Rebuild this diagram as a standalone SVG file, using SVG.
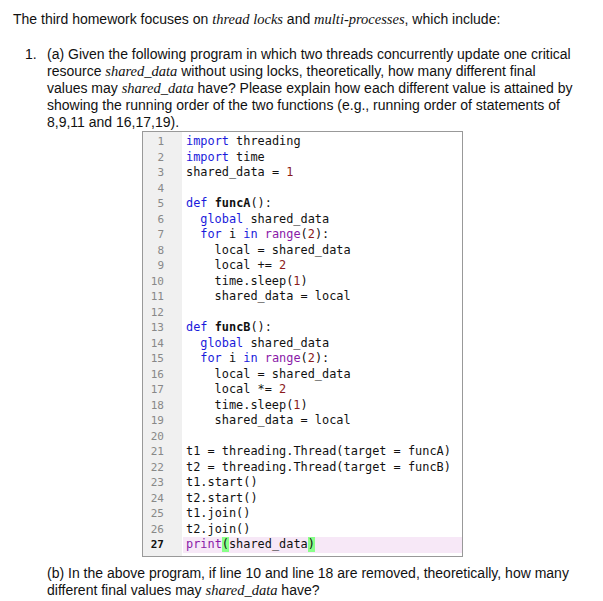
<svg xmlns="http://www.w3.org/2000/svg" width="603" height="601" viewBox="0 0 603 601">
<style>
.t{font-family:"Liberation Sans",Arial,sans-serif;font-size:14px;fill:#111}
.i{font-family:"Liberation Serif","Times New Roman",serif;font-style:italic;font-size:14.5px}
.c{font-family:"DejaVu Sans Mono",monospace;font-size:11.9px;fill:#111;white-space:pre}
.n{font-family:"DejaVu Sans Mono",monospace;font-size:11px;fill:#888;text-anchor:end}
.k{fill:#1a1adb}.p{fill:#8a1aa8}.m{fill:#8b1a1a}.b{font-weight:bold}
</style>
<rect width="603" height="601" fill="#fff"/>
<text class="t" x="13" y="24">The third homework focuses on <tspan class="i">thread locks</tspan> and <tspan class="i">multi-processes</tspan>, which include:</text>
<text class="t" x="25" y="59">1.</text>
<text class="t" x="47" y="59">(a) Given the following program in which two threads concurrently update one critical</text>
<text class="t" x="47" y="76">resource <tspan class="i">shared_data</tspan> without using locks, theoretically, how many different final</text>
<text class="t" x="47" y="93">values may <tspan class="i">shared_data</tspan> have? Please explain how each different value is attained by</text>
<text class="t" x="47" y="110">showing the running order of the two functions (e.g., running order of statements of</text>
<text class="t" x="47" y="127">8,9,11 and 16,17,19).</text>
<g id="code">
<rect x="142.5" y="131.5" width="320" height="425" fill="#fff" stroke="#999"/>
<rect x="143" y="132" width="39" height="424" fill="#f0f0f0"/>
<rect x="183" y="537" width="279" height="16" fill="#f7e8f7"/>
<rect x="222" y="537" width="7" height="15" fill="#8f8"/>
<rect x="308" y="537" width="7" height="15" fill="#8f8"/>
<g>
<text class="n" x="164" y="145">1</text><text class="n" x="164" y="160.5">2</text><text class="n" x="164" y="176">3</text><text class="n" x="164" y="191.5">4</text><text class="n" x="164" y="207">5</text><text class="n" x="164" y="222.5">6</text><text class="n" x="164" y="238">7</text><text class="n" x="164" y="253.5">8</text><text class="n" x="164" y="269">9</text><text class="n" x="164" y="284.5">10</text><text class="n" x="164" y="300">11</text><text class="n" x="164" y="315.5">12</text><text class="n" x="164" y="331">13</text><text class="n" x="164" y="346.5">14</text><text class="n" x="164" y="362">15</text><text class="n" x="164" y="377.5">16</text><text class="n" x="164" y="393">17</text><text class="n" x="164" y="408.5">18</text><text class="n" x="164" y="424">19</text><text class="n" x="164" y="439.5">20</text><text class="n" x="164" y="455">21</text><text class="n" x="164" y="470.5">22</text><text class="n" x="164" y="486">23</text><text class="n" x="164" y="501.5">24</text><text class="n" x="164" y="517">25</text><text class="n" x="164" y="532.5">26</text><text class="n b" x="164" y="548" style="fill:#111">27</text>
</g>
<g>
<text class="c" x="186" y="145"><tspan class="k">import</tspan> threading</text>
<text class="c" x="186" y="160.5"><tspan class="k">import</tspan> time</text>
<text class="c" x="186" y="176">shared_data = <tspan class="m">1</tspan></text>
<text class="c" x="186" y="207"><tspan class="k">def</tspan> <tspan class="b">funcA</tspan>():</text>
<text class="c" x="200.3" y="222.5"><tspan class="k">global</tspan> shared_data</text>
<text class="c" x="200.3" y="238"><tspan class="k">for</tspan> i <tspan class="k">in</tspan> <tspan class="p">range</tspan>(<tspan class="m">2</tspan>):</text>
<text class="c" x="214.6" y="253.5">local = shared_data</text>
<text class="c" x="214.6" y="269">local += <tspan class="m">2</tspan></text>
<text class="c" x="214.6" y="284.5">time.sleep(<tspan class="m">1</tspan>)</text>
<text class="c" x="214.6" y="300">shared_data = local</text>
<text class="c" x="186" y="331"><tspan class="k">def</tspan> <tspan class="b">funcB</tspan>():</text>
<text class="c" x="200.3" y="346.5"><tspan class="k">global</tspan> shared_data</text>
<text class="c" x="200.3" y="362"><tspan class="k">for</tspan> i <tspan class="k">in</tspan> <tspan class="p">range</tspan>(<tspan class="m">2</tspan>):</text>
<text class="c" x="214.6" y="377.5">local = shared_data</text>
<text class="c" x="214.6" y="393">local *= <tspan class="m">2</tspan></text>
<text class="c" x="214.6" y="408.5">time.sleep(<tspan class="m">1</tspan>)</text>
<text class="c" x="214.6" y="424">shared_data = local</text>
<text class="c" x="186" y="455">t1 = threading.Thread(target = funcA)</text>
<text class="c" x="186" y="470.5">t2 = threading.Thread(target = funcB)</text>
<text class="c" x="186" y="486">t1.start()</text>
<text class="c" x="186" y="501.5">t2.start()</text>
<text class="c" x="186" y="517">t1.join()</text>
<text class="c" x="186" y="532.5">t2.join()</text>
<text class="c" x="186" y="548"><tspan class="p">print</tspan>(shared_data)</text>
</g>
</g>
<text class="t" x="47" y="578">(b) In the above program, if line 10 and line 18 are removed, theoretically, how many</text>
<text class="t" x="47" y="595">different final values may <tspan class="i">shared_data</tspan> have?</text>
</svg>
